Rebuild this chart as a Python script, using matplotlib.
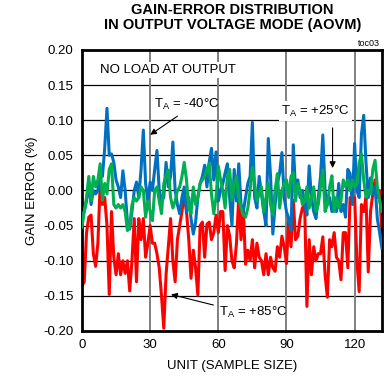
import numpy as np
import matplotlib
matplotlib.use("Agg")
import matplotlib.pyplot as plt

plt.rcParams['font.family'] = ['Liberation Sans', 'DejaVu Sans']

# valores (unidad 0..132)
blue_m40 = [-0.035, -0.03, -0.015, 0.01, -0.02, 0.0, -0.005, 0.0, 0.03, 0.02,
            0.06, 0.117, 0.05, 0.052, 0.04, 0.015, 0.005, -0.01, 0.028, 0.0,
            -0.045, -0.055, -0.03, 0.0, 0.012, -0.01, 0.03, 0.086, 0.01, -0.015,
            0.012, 0.0, 0.03, 0.057, 0.0, -0.015, -0.01, 0.04, 0.005, 0.02,
            0.069, 0.0, -0.02, -0.033, -0.01, 0.005, -0.03, -0.01, -0.04, -0.062,
            -0.045, -0.01, 0.01, 0.02, 0.036, 0.005, 0.04, 0.06, 0.015, 0.055,
            -0.015, 0.0, 0.01, 0.025, 0.038, -0.01, -0.05, 0.03, -0.015, 0.038,
            -0.02, -0.03, -0.01, 0.01, 0.02, 0.097, -0.01, -0.025, 0.02, -0.005,
            -0.03, -0.05, 0.074, 0.02, -0.062, -0.02, 0.01, 0.025, 0.054, -0.01,
            -0.03, -0.04, -0.057, 0.065, 0.0, 0.015, -0.01, 0.0, -0.02, -0.035,
            0.035, -0.01, -0.03, -0.04, -0.01, 0.02, 0.079, 0.0, -0.02, -0.01,
            -0.03, -0.01, -0.03, 0.01, -0.03, -0.02, -0.038, 0.03, 0.024, -0.02,
            0.067, 0.0, -0.01, 0.08, 0.107, 0.04, -0.01, 0.018, -0.005, 0.005,
            -0.04, -0.06, -0.082]

green_p25 = [-0.052, -0.03, -0.01, 0.02, -0.014, 0.02, 0.005, 0.015, 0.038, -0.014,
             0.01, -0.005, 0.03, 0.038, -0.02, -0.025, -0.02, -0.025, -0.02, -0.03,
             -0.057, -0.05, -0.02, -0.01, -0.015, -0.01, 0.005, 0.0, -0.038, -0.015,
             -0.03, -0.043, 0.0, 0.005, -0.015, -0.033, 0.01, 0.02, 0.029, -0.01,
             -0.025, -0.015, 0.0, 0.005, 0.02, 0.04, 0.015, -0.025, -0.033, 0.005,
             -0.02, -0.01, 0.01, 0.015, 0.02, 0.03, 0.038, -0.005, -0.033, -0.01,
             0.035, 0.015, 0.0, -0.025, 0.02, 0.03, -0.014, 0.01, 0.02, -0.01,
             -0.025, -0.035, -0.038, -0.025, 0.0, 0.033, 0.01, -0.015, -0.005, 0.005,
             -0.03, -0.01, 0.01, -0.02, -0.035, 0.0, 0.024, -0.025, 0.0, 0.01,
             0.015, -0.01, 0.02, 0.025, -0.015, 0.01, 0.0, -0.02, -0.015, 0.005,
             -0.025, -0.01, 0.005, -0.03, -0.02, 0.005, 0.029, -0.03, -0.02, 0.005,
             0.021, -0.03, -0.01, -0.025, -0.015, 0.015, 0.005, 0.015, 0.0, 0.015,
             0.005, 0.01, 0.039, 0.052, 0.015, -0.01, 0.0, -0.005, 0.03, 0.043,
             0.005, -0.015, -0.03]

red_p85 = [-0.136, -0.13, -0.06, -0.038, -0.035, -0.09, -0.108, -0.075, 0.008, -0.02,
           -0.01, -0.05, -0.148, -0.03, -0.095, -0.12, -0.09, -0.12, -0.1, -0.118,
           -0.1, -0.143, -0.1, -0.04, -0.13, -0.04, -0.07, -0.04, -0.095, -0.075,
           -0.05, -0.075, -0.075, -0.09, -0.11, -0.15, -0.196, -0.12, -0.08, -0.04,
           -0.1, -0.13, -0.07, -0.05, -0.03, -0.004, -0.03, -0.07, -0.125, -0.085,
           -0.11, -0.149, -0.05, -0.045, -0.095, -0.048, -0.045, -0.07, -0.06, -0.035,
           -0.06, -0.03, -0.03, -0.114, -0.05, -0.065, -0.1, -0.11, -0.075, -0.01,
           -0.07, -0.025, -0.105, -0.085, -0.1, -0.07, -0.11, -0.075, -0.095, -0.1,
           -0.12, -0.09, -0.12, -0.095, -0.11, -0.115, -0.08, -0.095, -0.065, -0.08,
           -0.104, -0.04, -0.08, -0.014, -0.07, -0.065, -0.04, -0.025, -0.02, -0.165,
           -0.07, -0.12, -0.08, -0.1, -0.09, -0.09, -0.066, -0.12, -0.152, -0.07,
           -0.08, -0.06, -0.095, -0.1, -0.127, -0.06, -0.06, -0.11, -0.01, -0.015,
           -0.01, -0.1, -0.144, -0.02, -0.03, -0.01, -0.116, -0.03, -0.005, 0.015,
           -0.01, 0.0, -0.06]

x_ticks = [0, 30, 60, 90, 120]
y_ticks = [-0.20, -0.15, -0.10, -0.05, 0.00, 0.05, 0.10, 0.15, 0.20]

units = np.arange(len(blue_m40))

fig = plt.figure(figsize=(3.84, 3.83), dpi=100)
ax = fig.add_axes([0.2135, 0.1358, 0.781, 0.7337])

# rejilla: horizontales negras, verticales grises
for yv in y_ticks[1:-1]:
    ax.axhline(yv, color="black", lw=0.9, zorder=1)
for xv in x_ticks[1:]:
    ax.axvline(xv, color="#808080", lw=1.4, zorder=1)

ax.plot(units, blue_m40, color="#0070C0", lw=2.2, zorder=3)
ax.plot(units, red_p85, color="#FF0000", lw=2.2, zorder=2)
ax.plot(units, green_p25, color="#00B050", lw=2.2, zorder=4)

ax.set_xlim(0, 132)
ax.set_ylim(-0.20, 0.20)
ax.set_xticks(x_ticks)
ax.set_yticks(y_ticks)
ax.set_yticklabels(["%.2f" % v for v in y_ticks])
ax.tick_params(length=0, labelsize=9.5, pad=6)
for s in ax.spines.values():
    s.set_linewidth(2)

ax.set_xlabel("UNIT (SAMPLE SIZE)", fontsize=9.5, labelpad=6)
ax.set_ylabel("GAIN ERROR (%)", fontsize=9.5, labelpad=4)

fig.text(0.605, 0.992, "GAIN-ERROR DISTRIBUTION\nIN OUTPUT VOLTAGE MODE (AOVM)",
         ha="center", va="top", fontsize=10.5, fontweight="bold", linespacing=1.05)
fig.text(0.99, 0.875, "toc03", ha="right", va="bottom", fontsize=6.5)

box = dict(facecolor="white", edgecolor="none", pad=1.5)
ax.text(8, 0.171, "NO LOAD AT OUTPUT", fontsize=9.5, va="center", bbox=box, zorder=5)
ax.text(31.5, 0.122, r"T$_\mathregular{A}$ = -40°C", fontsize=9.5, va="center", zorder=5)
ax.text(87.5, 0.113, r"T$_\mathregular{A}$ = +25°C", fontsize=9.5, va="center", bbox=box, zorder=5)
ax.text(60.5, -0.173, r"T$_\mathregular{A}$ = +85°C", fontsize=9.5, va="center", zorder=5)

arrow = dict(arrowstyle="-|>", color="black", lw=0.8, mutation_scale=9)
ax.annotate("", xy=(29, 0.077), xytext=(43, 0.108), arrowprops=arrow, zorder=6)
ax.annotate("", xy=(110.3, 0.028), xytext=(110.3, 0.093), arrowprops=arrow, zorder=6)
ax.annotate("", xy=(38, -0.147), xytext=(59, -0.164), arrowprops=arrow, zorder=6)

fig.savefig("out.png", dpi=100)
